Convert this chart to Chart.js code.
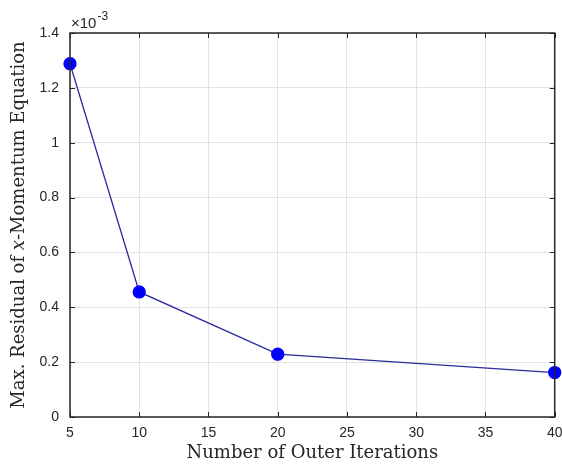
<!DOCTYPE html>
<html>
<head>
<meta charset="utf-8">
<script src="https://cdn.jsdelivr.net/npm/chart.js@4/dist/chart.umd.min.js"></script>
<style>
html,body{margin:0;padding:0;background:#fff;}
#wrap{width:562px;height:464px;position:relative;}
</style>
</head>
<body>
<div id="wrap"><canvas id="c" width="562" height="464"></canvas></div>
<script>
// Data (y in units of 1e-3)
const iterations = [5, 10, 20, 40];
const maxResidual = [1.288, 0.456, 0.229, 0.162];
const xTicks = [5, 10, 15, 20, 25, 30, 35, 40];
const yTicks = [0, 0.2, 0.4, 0.6, 0.8, 1, 1.2, 1.4];
const xTitle = 'Number of Outer Iterations';
const yTitleParts = [['Max. Residual of ', false], ['x', true], ['-Momentum Equation', false]];
const exponentLabel = ['×10', '-3'];

const points = iterations.map((x, i) => ({x: x, y: maxResidual[i]}));

const decor = {
  id: 'decor',
  afterDraw(chart) {
    const ctx = chart.ctx, a = chart.chartArea;
    const xs = chart.scales.x, ys = chart.scales.y;
    ctx.save();
    // inward ticks
    ctx.strokeStyle = '#262626';
    ctx.lineWidth = 1;
    ctx.beginPath();
    xTicks.forEach(v => {
      const px = Math.round(xs.getPixelForValue(v)) + 0.5;
      ctx.moveTo(px, a.bottom); ctx.lineTo(px, a.bottom - 5);
      ctx.moveTo(px, a.top); ctx.lineTo(px, a.top + 5);
    });
    yTicks.forEach(v => {
      const py = Math.round(ys.getPixelForValue(v)) + 0.5;
      ctx.moveTo(a.left, py); ctx.lineTo(a.left + 5, py);
      ctx.moveTo(a.right, py); ctx.lineTo(a.right - 5, py);
    });
    ctx.stroke();
    // box
    ctx.lineWidth = 1.5;
    ctx.strokeStyle = '#262626';
    ctx.strokeRect(a.left, a.top, a.right - a.left, a.bottom - a.top);
    // exponent label
    ctx.fillStyle = '#262626';
    ctx.textBaseline = 'alphabetic';
    ctx.textAlign = 'left';
    ctx.font = '15px "Liberation Sans", Arial, sans-serif';
    const ex = a.left + 1, ey = a.top - 5;
    ctx.fillText(exponentLabel[0], ex, ey);
    const w0 = ctx.measureText(exponentLabel[0]).width;
    ctx.font = '12px "Liberation Sans", Arial, sans-serif';
    ctx.fillText(exponentLabel[1], ex + w0 + 1, ey - 8);
    // y title with italic x
    const fontN = '18px "DejaVu Serif", "Liberation Serif", serif';
    const fontI = 'italic 18px "DejaVu Serif", "Liberation Serif", serif';
    let total = 0;
    const widths = yTitleParts.map(p => { ctx.font = p[1] ? fontI : fontN; const w = ctx.measureText(p[0]).width; total += w; return w; });
    ctx.translate(24, (a.top + a.bottom) / 2);
    ctx.rotate(-Math.PI / 2);
    ctx.fillStyle = '#262626';
    let cx = -total / 2;
    yTitleParts.forEach((p, i) => {
      ctx.font = p[1] ? fontI : fontN;
      ctx.fillText(p[0], cx, 0);
      cx += widths[i];
    });
    ctx.restore();
  }
};

new Chart(document.getElementById('c'), {
  type: 'line',
  data: {
    datasets: [{
      data: points,
      borderColor: '#2b2b9c',
      borderWidth: 1.3,
      pointBackgroundColor: '#0000ff',
      pointBorderColor: '#0000ff',
      pointRadius: 6,
      pointHoverRadius: 6,
      tension: 0,
      clip: false
    }]
  },
  options: {
    responsive: false,
    animation: false,
    events: [],
    layout: { padding: { top: 33, right: 6, left: 0, bottom: 0 } },
    plugins: { legend: { display: false }, tooltip: { enabled: false } },
    scales: {
      x: {
        type: 'linear',
        min: 5, max: 40,
        afterBuildTicks(s) { s.ticks = xTicks.map(v => ({value: v})); },
        afterFit(s) { s.height = 47; s.paddingLeft = 0; s.paddingRight = 0; },
        grid: { color: '#e3e3e3', lineWidth: 1, drawTicks: false },
        border: { display: false },
        ticks: { padding: 8, maxRotation: 0, color: '#262626', font: { family: '"Liberation Sans", Arial, sans-serif', size: 14 } },
        title: { display: true, text: xTitle, color: '#262626', padding: { top: 0, bottom: 0 }, font: { family: '"DejaVu Serif", "Liberation Serif", serif', size: 18 } }
      },
      y: {
        type: 'linear',
        min: 0, max: 1.4,
        afterBuildTicks(s) { s.ticks = yTicks.map(v => ({value: v})); },
        afterFit(s) { s.width = 70; s.paddingTop = 0; s.paddingBottom = 0; },
        grid: { color: '#e3e3e3', lineWidth: 1, drawTicks: false },
        border: { display: false },
        ticks: { padding: 11, color: '#262626', font: { family: '"Liberation Sans", Arial, sans-serif', size: 14 }, callback: v => String(Math.round(v * 10) / 10) }
      }
    }
  },
  plugins: [decor]
});
</script>
</body>
</html>
